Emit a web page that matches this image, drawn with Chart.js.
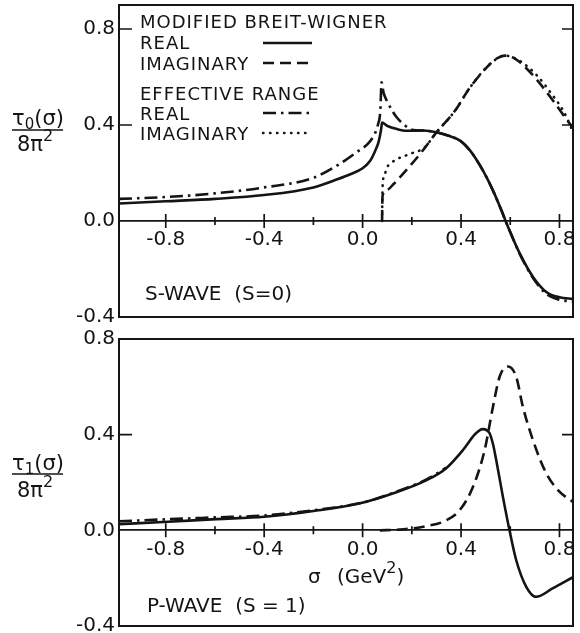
<!DOCTYPE html>
<html>
<head>
<meta charset="utf-8">
<script src="https://cdn.jsdelivr.net/npm/chart.js@4"></script>
<style>
  body { margin: 0; background: #fff; width: 580px; height: 633px; position: relative; overflow: hidden; }
  canvas { position: absolute; left: 0; }
  #sWave { top: 0; }
  #pWave { top: 326px; }
</style>
</head>
<body>
<canvas id="sWave" width="580" height="330"></canvas>
<canvas id="pWave" width="580" height="307"></canvas>
<script>
// sigma (GeV^2) against tau/8pi^2

// S-wave, modified Breit-Wigner
const sMbwRealX = [-0.99, -0.8, -0.6, -0.4, -0.2, -0.1, -0.05, 0.0, 0.03, 0.05, 0.065, 0.075, 0.079, 0.099, 0.14, 0.18, 0.246, 0.3, 0.35, 0.396, 0.437, 0.475, 0.505, 0.535, 0.559, 0.592, 0.64, 0.694, 0.748, 0.8, 0.855];
const sMbwRealY = [0.073, 0.082, 0.092, 0.108, 0.14, 0.175, 0.195, 0.22, 0.25, 0.29, 0.33, 0.38, 0.41, 0.397, 0.383, 0.376, 0.377, 0.37, 0.355, 0.335, 0.293, 0.235, 0.18, 0.115, 0.057, -0.027, -0.138, -0.235, -0.297, -0.318, -0.325];
const sMbwImagX = [0.079, 0.081, 0.1, 0.126, 0.18, 0.234, 0.3, 0.376, 0.437, 0.518, 0.55, 0.579, 0.61, 0.64, 0.707, 0.775, 0.843, 0.855];
const sMbwImagY = [0.0, 0.105, 0.13, 0.154, 0.215, 0.28, 0.369, 0.46, 0.557, 0.654, 0.68, 0.689, 0.682, 0.661, 0.59, 0.5, 0.404, 0.39];
// S-wave, effective range
const sErRealX = [-0.99, -0.8, -0.6, -0.4, -0.2, -0.09, -0.02, 0.02, 0.045, 0.062, 0.072, 0.077, 0.085, 0.099, 0.12, 0.14, 0.17, 0.194, 0.22, 0.246, 0.3, 0.35, 0.396, 0.437, 0.475, 0.505, 0.535, 0.559, 0.592, 0.64, 0.694, 0.748, 0.8, 0.855];
const sErRealY = [0.092, 0.1, 0.115, 0.14, 0.18, 0.24, 0.29, 0.32, 0.355, 0.4, 0.46, 0.578, 0.535, 0.5, 0.46, 0.43, 0.4, 0.383, 0.378, 0.377, 0.37, 0.355, 0.335, 0.293, 0.235, 0.18, 0.115, 0.057, -0.027, -0.14, -0.24, -0.305, -0.328, -0.335];
const sErImagX = [0.079, 0.081, 0.09, 0.099, 0.12, 0.14, 0.194, 0.25, 0.3, 0.376, 0.437, 0.518, 0.579, 0.64, 0.707, 0.775, 0.815, 0.843, 0.855];
const sErImagY = [0.0, 0.14, 0.195, 0.223, 0.245, 0.258, 0.28, 0.305, 0.369, 0.46, 0.557, 0.654, 0.689, 0.666, 0.608, 0.52, 0.46, 0.4, 0.37];

// P-wave
const pMbwRealX = [-0.99, -0.79, -0.594, -0.4, -0.2, -0.01, 0.125, 0.26, 0.34, 0.408, 0.455, 0.475, 0.489, 0.505, 0.516, 0.53, 0.543, 0.57, 0.597, 0.624, 0.665, 0.705, 0.772, 0.853];
const pMbwRealY = [0.026, 0.036, 0.047, 0.057, 0.081, 0.113, 0.155, 0.21, 0.26, 0.336, 0.4, 0.418, 0.423, 0.418, 0.406, 0.36, 0.294, 0.141, 0.0, -0.124, -0.236, -0.278, -0.243, -0.197];
const pMbwImagX = [0.07, 0.15, 0.2, 0.26, 0.327, 0.395, 0.449, 0.496, 0.53, 0.557, 0.59, 0.624, 0.651, 0.692, 0.746, 0.8, 0.853];
const pMbwImagY = [0.0, 0.003, 0.008, 0.018, 0.036, 0.085, 0.183, 0.336, 0.518, 0.643, 0.685, 0.643, 0.518, 0.378, 0.239, 0.162, 0.12];
const pErRealX = [-0.99, -0.8, -0.6, -0.4, -0.2, 0.0, 0.125, 0.26, 0.34];
const pErRealY = [0.038, 0.046, 0.054, 0.062, 0.084, 0.116, 0.157, 0.213, 0.262];

const xTickValues = [-0.8, -0.6, -0.4, -0.2, 0, 0.2, 0.4, 0.6, 0.8];
const yTickValues = [-0.4, 0, 0.4, 0.8];

const ink = "#141414";
const font = (px) => `${px}px "DejaVu Sans"`;
const isMajor = (v) => Math.abs(Math.round(v * 10)) % 4 === 0;

const lineStyles = {
  solid: [],
  dashed: [11, 6],
  dashdot: [13, 5, 2.5, 5],
  dotted: [0.5, 6.5],
};

const pts = (xs, ys) => xs.map((x, i) => ({ x, y: ys[i] }));

const series = (data, style) => ({
  data,
  borderColor: ink,
  borderWidth: 2.6,
  borderDash: lineStyles[style],
  borderCapStyle: style === "dotted" ? "round" : "butt",
  pointRadius: 0,
  fill: false,
  cubicInterpolationMode: "monotone",
});

// draws pieces of text with their own size / vertical shift, one after another
function drawRuns(ctx, runs, x, y) {
  runs.forEach((r) => {
    ctx.font = font(r.size);
    ctx.fillText(r.t, x, y + (r.dy || 0));
    x += ctx.measureText(r.t).width;
  });
}

const framePlugin = {
  id: "frame",
  afterDraw(chart, args, opts) {
    const { ctx, chartArea: a, scales: { x, y } } = chart;
    const off = opts.offsetY;
    ctx.save();
    ctx.strokeStyle = ink;
    ctx.fillStyle = ink;
    ctx.lineWidth = 2;
    ctx.strokeRect(a.left, a.top, a.right - a.left, a.bottom - a.top);

    // ticks crossing the zero line, inward ticks on the frame
    const y0 = y.getPixelForValue(0);
    ctx.lineWidth = 1.7;
    ctx.beginPath();
    xTickValues.forEach((v) => {
      const px = x.getPixelForValue(v);
      const len = isMajor(v) ? 7 : 4;
      ctx.moveTo(px, y0 - len);
      ctx.lineTo(px, y0 + len);
    });
    opts.leftTicks.forEach((v) => {
      const py = y.getPixelForValue(v);
      ctx.moveTo(a.left, py);
      ctx.lineTo(a.left + 13, py);
    });
    opts.rightTicks.forEach((v) => {
      const py = y.getPixelForValue(v);
      ctx.moveTo(a.right, py);
      ctx.lineTo(a.right - 11, py);
    });
    ctx.stroke();

    ctx.textAlign = "left";
    ctx.textBaseline = "alphabetic";

    // y title as a fraction
    const f = opts.fraction;
    drawRuns(ctx, [{ t: "\u03c4", size: 21 }, { t: f.sub, size: 15, dy: 4 }, { t: "(\u03c3)", size: 21 }], 12, f.numBase - off);
    drawRuns(ctx, [{ t: "8\u03c0", size: 21 }, { t: "2", size: 16, dy: -10 }], 17, f.denBase - off);
    ctx.lineWidth = 1.7;
    ctx.beginPath();
    ctx.moveTo(12, f.lineY - off);
    ctx.lineTo(63, f.lineY - off);
    ctx.stroke();

    opts.labels.forEach((l) => {
      ctx.letterSpacing = (l.spacing || 0) + "px";
      drawRuns(ctx, l.runs, l.x, l.y - off);
    });
    ctx.letterSpacing = "0px";

    ctx.lineWidth = 2.4;
    opts.samples.forEach((s) => {
      ctx.setLineDash(lineStyles[s.style]);
      ctx.lineCap = s.style === "dotted" ? "round" : "butt";
      ctx.beginPath();
      ctx.moveTo(263, s.y - off);
      ctx.lineTo(312, s.y - off);
      ctx.stroke();
    });
    ctx.restore();
  },
};

function makeChart(id, datasets, yMax, frameOpts, padTop, padBottom) {
  return new Chart(document.getElementById(id), {
    type: "line",
    data: { datasets },
    plugins: [framePlugin],
    options: {
      responsive: false,
      animation: false,
      layout: { padding: { top: padTop, bottom: padBottom, left: 0, right: 7 } },
      plugins: { legend: { display: false }, tooltip: { enabled: false }, frame: frameOpts },
      scales: {
        x: {
          type: "linear",
          min: -0.99,
          max: 0.855,
          position: { y: 0 },
          afterBuildTicks: (s) => { s.ticks = xTickValues.map((v) => ({ value: v })); },
          afterFit: (s) => { s.height = 0; s.paddingLeft = 0; s.paddingRight = 0; },
          grid: { display: false, drawTicks: false },
          border: { display: true, color: ink, width: 1.8 },
          ticks: {
            autoSkip: false,
            maxRotation: 0,
            padding: 7,
            color: ink,
            font: { family: "DejaVu Sans", size: 20 },
            callback: (v) => (isMajor(v) ? v.toFixed(1) : ""),
          },
        },
        y: {
          type: "linear",
          min: -0.4,
          max: yMax,
          position: "left",
          afterBuildTicks: (s) => { s.ticks = yTickValues.map((v) => ({ value: v })); },
          afterFit: (s) => { s.width = 119; s.paddingTop = 0; s.paddingBottom = 0; },
          grid: { display: false, drawTicks: false },
          border: { display: false },
          ticks: {
            padding: 4,
            color: ink,
            font: { family: "DejaVu Sans", size: 20 },
            callback: (v) => v.toFixed(1),
          },
        },
      },
    },
  });
}

makeChart(
  "sWave",
  [
    series(pts(sMbwRealX, sMbwRealY), "solid"),
    series(pts(sMbwImagX, sMbwImagY), "dashed"),
    series(pts(sErRealX, sErRealY), "dashdot"),
    series(pts(sErImagX, sErImagY), "dotted"),
  ],
  0.9,
  {
    offsetY: 0,
    leftTicks: [0.4, 0.8],
    rightTicks: [0.4, 0.8],
    fraction: { sub: "0", numBase: 125, lineY: 130, denBase: 151 },
    labels: [
      { runs: [{ t: "MODIFIED BREIT-WIGNER", size: 18 }], x: 140, y: 28, spacing: 1 },
      { runs: [{ t: "REAL", size: 18 }], x: 140, y: 49, spacing: 1 },
      { runs: [{ t: "IMAGINARY", size: 18 }], x: 140, y: 70, spacing: 1 },
      { runs: [{ t: "EFFECTIVE RANGE", size: 18 }], x: 140, y: 100, spacing: 1 },
      { runs: [{ t: "REAL", size: 18 }], x: 140, y: 120, spacing: 1 },
      { runs: [{ t: "IMAGINARY", size: 18 }], x: 140, y: 140, spacing: 1 },
      { runs: [{ t: "S-WAVE  (S=0)", size: 20 }], x: 145, y: 300 },
    ],
    samples: [
      { style: "solid", y: 43 },
      { style: "dashed", y: 63 },
      { style: "dashdot", y: 113 },
      { style: "dotted", y: 133 },
    ],
  },
  5,
  13
);

makeChart(
  "pWave",
  [
    series(pts(pMbwRealX, pMbwRealY), "solid"),
    series(pts(pMbwImagX, pMbwImagY), "dashed"),
    series(pts(pErRealX, pErRealY), "dashdot"),
  ],
  0.8,
  {
    offsetY: 326,
    leftTicks: [0.4],
    rightTicks: [0.4],
    fraction: { sub: "1", numBase: 470, lineY: 474, denBase: 497 },
    labels: [
      { runs: [{ t: "P-WAVE  (S = 1)", size: 20 }], x: 147, y: 612 },
      { runs: [{ t: "\u03c3", size: 20 }], x: 308, y: 583 },
      { runs: [{ t: "(GeV", size: 20 }, { t: "2", size: 16, dy: -10 }, { t: ")", size: 20 }], x: 337, y: 583 },
    ],
    samples: [],
  },
  13,
  7
);
</script>
</body>
</html>
